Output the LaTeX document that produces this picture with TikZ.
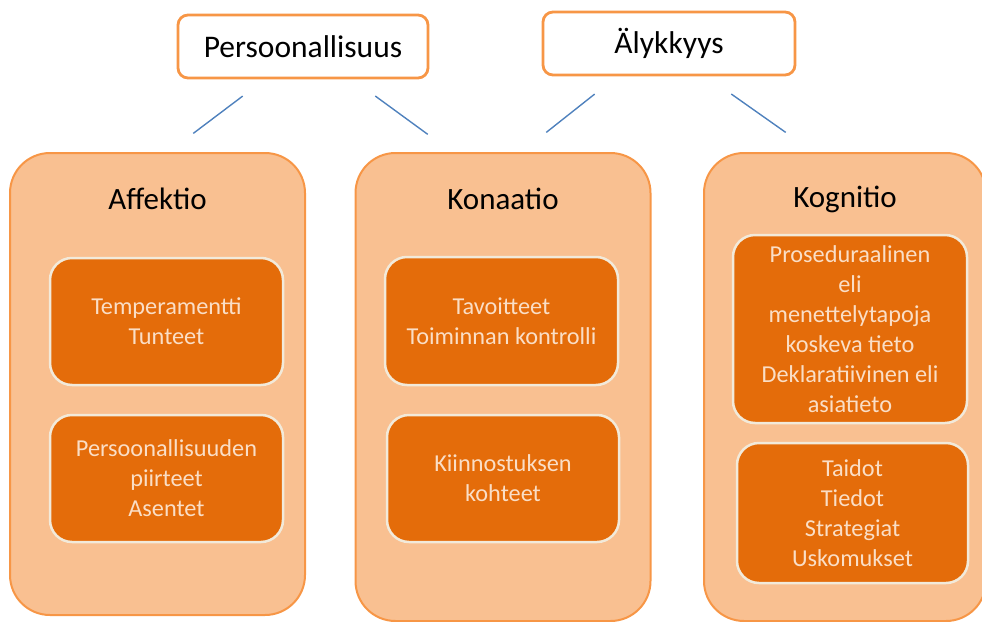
\documentclass[tikz,border=0pt]{standalone}
\usepackage{fontspec}
\setmainfont{Carlito}
\usetikzlibrary{positioning, calc}

\definecolor{peach}{RGB}{249,192,145}
\definecolor{peachline}{RGB}{247,150,70}
\definecolor{burnt}{RGB}{228,108,10}
\definecolor{cream}{RGB}{242,234,218}
\definecolor{creamtext}{RGB}{250,222,198}
\definecolor{linkblue}{RGB}{79,129,189}

\begin{document}
\begin{tikzpicture}[
      x=1pt, y=-1pt,
      trait/.style ={rectangle, draw=peachline, line width=2.8pt, fill=white,
                     rounded corners=10pt, minimum width=250pt,
                     minimum height=63pt, font=\fontsize{31.5}{36}\selectfont},
      column/.style={rectangle, draw=peachline, line width=2pt, fill=peach,
                     rounded corners=40pt, minimum width=295pt, inner sep=0pt},
      heading/.style={font=\fontsize{31}{36}\selectfont},
      item/.style  ={rectangle, draw=cream, line width=2.5pt, fill=burnt,
                     rounded corners=22pt, minimum width=233pt, align=center,
                     text=creamtext, font=\fontsize{24.3}{30}\selectfont},
      link/.style  ={draw=linkblue, line width=1.4pt}
    ]
    \clip (0,0) rectangle (982,621);
    \useasboundingbox (0,0) rectangle (982,621);

    \node[trait] (pers) at (303,46.5) {Persoonallisuus};
    \node[trait, minimum width=252pt] (aly) at (669,43.5) {Älykkyys};

    \node[column, minimum height=462pt] (affektio) at (157.5,384) {};
    \node[column, minimum height=468pt] (konaatio) at (503,387) {};
    \node[column, minimum width=282pt, minimum height=468pt] (kognitio) at (845,387) {};

    \node[heading] (affektio_t) at ([yshift=-47]affektio.north) {Affektio};
    \node[heading] (konaatio_t) at ([yshift=-47]konaatio.north) {Konaatio};
    \node[heading] (kognitio_t) at ([yshift=-47]kognitio.north) {Kognitio};

    % inner boxes
    \node[item, minimum height=127pt] (af1) at (166.5,321.5) {Temperamentti\\Tunteet};
    \node[item, minimum height=127pt] (af2) at (166.5,478.5) {Persoonallisuuden\\piirteet\\Asentet};
    \node[item, minimum height=128pt] (ko1) at (501.5,321) {Tavoitteet\\Toiminnan kontrolli};
    \node[item, minimum height=127pt, minimum width=232pt] (ko2) at (503,478.5) {Kiinnostuksen\\kohteet};
    \node[item, minimum height=188pt, minimum width=234pt] (kg1) at (850,329)
          {Proseduraalinen\\eli\\menettelytapoja\\koskeva tieto\\Deklaratiivinen eli\\asiatieto};
    \node[item, minimum height=140pt, minimum width=231pt] (kg2) at (852.5,513)
          {Taidot\\Tiedot\\Strategiat\\Uskomukset};

    \draw[link, shorten <=27.7pt, shorten >=30.9pt]
          ([xshift=-38.2]pers.south) -- ([xshift=11.1]affektio.north);
    \draw[link, shorten <=28.2pt, shorten >=29.9pt]
          ([xshift=49.5]pers.south) -- ([xshift=-51.1]konaatio.north);
    \draw[link, shorten <=28.5pt, shorten >=31.6pt]
          ([xshift=-52]aly.south) -- ([xshift=18.5]konaatio.north);
    \draw[link, shorten <=30.6pt, shorten >=34pt]
          ([xshift=37.3]aly.south) -- ([xshift=-31.5]kognitio.north);
\end{tikzpicture}
\end{document}
